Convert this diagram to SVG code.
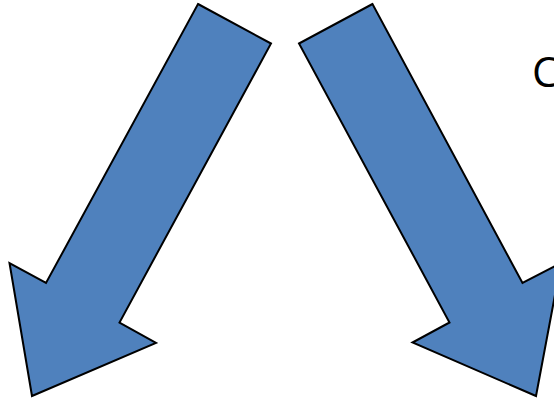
<svg xmlns="http://www.w3.org/2000/svg" width="554" height="401" viewBox="0 0 554 401">
<style>
.arrow{fill:#4F81BD;stroke:#000;stroke-width:2;stroke-linejoin:miter}
.lbl{font-family:"Open Sans","Liberation Sans",sans-serif;font-size:42px;fill:#000}
</style>
<rect width="554" height="401" fill="#fff"/>
<g id="arrow-left">
<polygon class="arrow" points="198,4 271,43.5 119.5,322.5 156,343 32,396 9.5,263 46,283"/>
</g>
<g id="arrow-right">
<polygon class="arrow" points="372.5,4 299,43.5 449.5,322.5 412.5,342.5 536,396 561,263 522.5,283"/>
</g>
<g id="label">
<text class="lbl" x="532" y="87">C</text>
</g>
</svg>
